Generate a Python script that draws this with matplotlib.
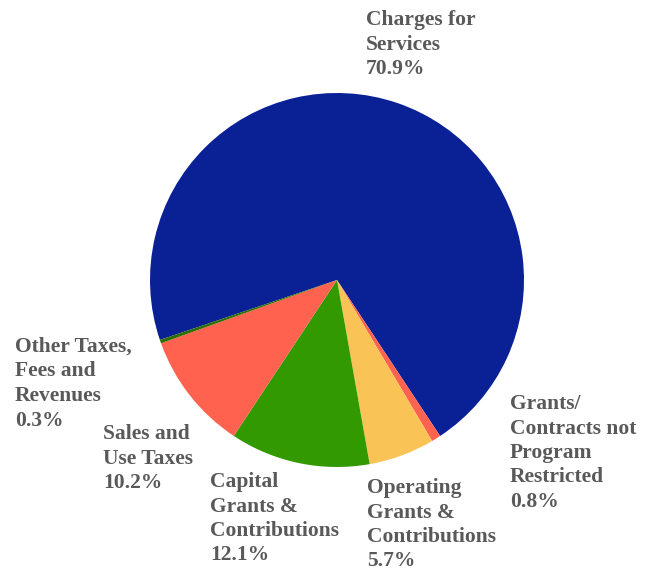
import matplotlib.pyplot as plt

labels = ['Charges for\nServices', 'Grants/\nContracts not\nProgram\nRestricted',
          'Operating\nGrants &\nContributions', 'Capital\nGrants &\nContributions',
          'Sales and\nUse Taxes', 'Other Taxes,\nFees and\nRevenues']
shares = [70.9, 0.8, 5.7, 12.1, 10.2, 0.3]
colors = ['#0a2196', '#ff6350', '#fac355', '#339900', '#ff6350', '#2d6e00']

# label anchor (top-left, pixels from top-left of figure)
label_pos = [(366, 10), (510, 394), (367, 478), (210, 472), (103, 424), (15, 337)]

W, H = 650, 573
fig = plt.figure(figsize=(W / 100, H / 100), dpi=100)

cx, cy, r = 337, 280, 187
ax = fig.add_axes([(cx - r) / W, (H - cy - r) / H, 2 * r / W, 2 * r / H])
ax.pie(shares, colors=colors, startangle=198.7, counterclock=False,
       wedgeprops=dict(linewidth=0))
ax.set_xlim(-1, 1)
ax.set_ylim(-1, 1)
ax.set_aspect('auto')
ax.axis('off')

for lab, val, (x, y) in zip(labels, shares, label_pos):
    fig.text(x / W, 1 - y / H, f'{lab}\n{val}%', ha='left', va='top',
             fontsize=15.5, fontweight='bold', family='Liberation Serif',
             color='#595959', linespacing=1.3)

fig.savefig('out.png', dpi=100)
